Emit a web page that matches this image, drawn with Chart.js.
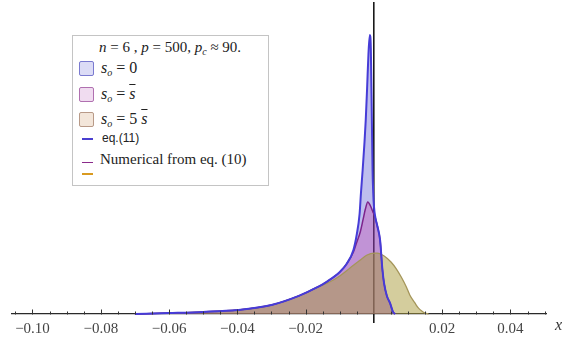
<!DOCTYPE html>
<html>
<head>
<meta charset="utf-8">
<script src="https://cdn.jsdelivr.net/npm/chart.js@4/dist/chart.umd.min.js"></script>
<style>
  html, body { margin:0; padding:0; background:#fff; }
  #wrap { position:relative; width:564px; height:342px; }
  #legend { position:absolute; left:72px; top:35px; width:195px; height:149px; border:1px solid #c4c4c4; background:#fff; font-family:'Liberation Serif', serif; color:#222; font-size:15px; }
  #legend .row { position:absolute; white-space:nowrap; line-height:16px; }
  #legend .ico { position:absolute; width:13px; height:13px; border-radius:2px; }
  #legend .ln { position:absolute; height:0; }
  #legend sub { font-size:10px; vertical-align:-3px; line-height:0; }
  .ov { text-decoration: overline; }
  #xlab { position:absolute; left:555px; top:316px; font-family:'Liberation Serif', serif; font-style:italic; font-size:16px; color:#333; }
</style>
</head>
<body>
<div id="wrap">
  <canvas id="c" width="564" height="342"></canvas>
  <div id="legend">
    <div class="row" style="left:26px;top:3px;font-size:15px;"><i>n</i> = 6 , <i>p</i> = 500, <i>p</i><sub><i>c</i></sub> ≈ 90.</div>
    <div class="ico" style="left:6px;top:25px;background:#dcdcf6;border:1.5px solid #7a7ad0;"></div>
    <div class="row" style="left:28px;top:24px;font-size:16px;"><i>s</i><sub><i>o</i></sub> = 0</div>
    <div class="ico" style="left:6px;top:51px;background:#f0dcf0;border:1.5px solid #b070b0;"></div>
    <div class="row" style="left:28px;top:50px;font-size:16px;"><i>s</i><sub><i>o</i></sub> = <i class="ov">s</i></div>
    <div class="ico" style="left:6px;top:76px;background:#f3e6da;border:1.5px solid #b89a88;"></div>
    <div class="row" style="left:28px;top:75px;font-size:16px;"><i>s</i><sub><i>o</i></sub> = 5 <i class="ov">s</i></div>
    <div class="ln" style="left:9px;top:102px;width:11px;border-top:2px solid #4a3fd0;"></div>
    <div class="row" style="left:29px;top:94px;font-family:'Liberation Sans',sans-serif;font-size:12px;">eq.(11)</div>
    <div class="ln" style="left:9px;top:126px;width:11px;border-top:1.5px solid #8a2a8a;"></div>
    <div class="ln" style="left:9px;top:137px;width:11px;border-top:2px solid #d99a20;"></div>
    <div class="row" style="left:27px;top:115px;font-size:15px;">Numerical from eq. (10)</div>
  </div>
  <div id="xlab">x</div>
</div>
<script>
// ---- data (density vs x) ----
const blueX = [-0.07,-0.06,-0.05,-0.04,-0.03,-0.022,-0.017,-0.0135,-0.01,-0.008,-0.006,-0.005,-0.0042,-0.0038,-0.0033,-0.0028,-0.0024,-0.002,-0.0016,-0.0012,-0.0009,-0.0006,-0.0004,-0.0002,0,0.0005,0.001,0.0018,0.0025,0.003,0.0038,0.0047,0.0056,0.0062];
const blueY = [0,0.6,1.3,2.5,5.6,11.3,16.3,20.6,26.3,31.3,40,50,62.5,75.6,90,106,121,141,162.5,174.4,166,121,90,75.6,67.5,59.4,55,46.3,27.5,18.8,11.3,6.9,1.3,0];

const purpleX = [-0.07,-0.06,-0.05,-0.04,-0.03,-0.022,-0.017,-0.0135,-0.01,-0.008,-0.006,-0.005,-0.004,-0.0032,-0.0025,-0.0018,-0.001,-0.0003,0,0.0005,0.001,0.0018,0.0025,0.003,0.0038,0.0047,0.0056,0.0062];
const purpleY = [0,0.6,1.3,2.5,5.6,11.3,16.3,20.6,26.3,31.3,38.8,45,51.3,58.8,65.6,70,67.5,63.8,62.5,59.4,55,46.3,27.5,18.8,11.3,6.9,1.3,0];

const oliveX = [-0.07,-0.06,-0.05,-0.04,-0.03,-0.022,-0.017,-0.013,-0.01,-0.007,-0.004,-0.002,0,0.001,0.003,0.005,0.0066,0.008,0.0095,0.0105,0.012,0.013,0.014,0.015,0.016];
const oliveY = [0,0.6,1.3,2.5,5.6,11.3,16.3,20,23.8,28.8,33.8,36.9,38.1,38.1,36.3,32.5,28.1,23.1,16.9,11.9,6.9,3.8,1.9,0.6,0];

const majorTicks = [-0.10,-0.08,-0.06,-0.04,-0.02,0.02,0.04];
const tickLabels = ['\u22120.10','\u22120.08','\u22120.06','\u22120.04','\u22120.02','0.02','0.04'];
const minorStep = 0.005;

const xMin = -0.106, xMax = 0.0504, yMin = -5, yMax = 194.4;

function pts(xs, ys){ return xs.map((x,i)=>({x:x, y:ys[i]})); }
function labelFor(v){
  for (let i=0;i<majorTicks.length;i++){ if (Math.abs(v-majorTicks[i])<1e-7) return tickLabels[i]; }
  return '';
}
function isMajor(v){ return Math.abs(v/0.02 - Math.round(v/0.02)) < 1e-6; }

const tickPlugin = {
  id:'mmaTicks',
  afterDraw(chart){
    const xs = chart.scales.x, ys = chart.scales.y, ctx = chart.ctx;
    const y0 = Math.round(ys.getPixelForValue(0)) + 0.5;
    ctx.save();
    ctx.strokeStyle = '#333'; ctx.lineWidth = 1;
    xs.ticks.forEach(t=>{
      if (Math.abs(t.value) < 1e-9) return;
      const px = Math.round(xs.getPixelForValue(t.value)) + 0.5;
      ctx.beginPath(); ctx.moveTo(px, y0); ctx.lineTo(px, y0 - (isMajor(t.value) ? 5 : 3)); ctx.stroke();
    });
    ctx.restore();
  }
};

const tickVals = [];
for (let k = Math.ceil(xMin/minorStep); k*minorStep <= xMax + 1e-9; k++) tickVals.push(+(k*minorStep).toFixed(4));

const lineCommon = { pointRadius:0, cubicInterpolationMode:'monotone', fill:false };
const fillCommon = { pointRadius:0, cubicInterpolationMode:'monotone', fill:'origin', borderWidth:0, borderColor:'rgba(0,0,0,0)' };

new Chart(document.getElementById('c'), {
  type: 'line',
  data: {
    datasets: [
      // outlines (index 0 drawn last => on top)
      Object.assign({ label:'eq.(11)', data: pts(blueX, blueY), borderColor:'rgb(70,60,215)', borderWidth:2 }, lineCommon),
      Object.assign({ label:'s_o = s (num)', data: pts(purpleX, purpleY), borderColor:'rgb(125,35,140)', borderWidth:1.5 }, lineCommon),
      Object.assign({ label:'s_o = 5s (num)', data: pts(oliveX, oliveY), borderColor:'rgb(165,150,90)', borderWidth:1.3 }, lineCommon),
      // fills (highest index drawn first)
      Object.assign({ label:'s_o = 5s', data: pts(oliveX, oliveY), backgroundColor:'rgba(170,155,60,0.5)' }, fillCommon),
      Object.assign({ label:'s_o = s', data: pts(purpleX, purpleY), backgroundColor:'rgba(200,70,170,0.35)' }, fillCommon),
      Object.assign({ label:'s_o = 0', data: pts(blueX, blueY), backgroundColor:'rgba(40,40,200,0.3)' }, fillCommon)
    ]
  },
  options: {
    responsive:false, animation:false,
    layout:{ padding:{ left:12, right:18, top:3, bottom:20 } },
    plugins:{ legend:{display:false}, tooltip:{enabled:false}, filler:{ drawTime:'beforeDatasetsDraw' } },
    scales:{
      x:{
        type:'linear', min:xMin, max:xMax, position:{y:0},
        afterBuildTicks: s => { s.ticks = tickVals.map(v=>({value:v})); },
        grid:{ display:false, drawTicks:false },
        border:{ display:true, color:'#2a2a2a', width:1.2 },
        ticks:{ autoSkip:false, maxRotation:0, padding:6, color:'#444', font:{ family:'Liberation Serif', size:15 }, callback: v => labelFor(v) }
      },
      y:{
        type:'linear', min:yMin, max:yMax, position:{x:0},
        grid:{ display:false, drawTicks:false },
        border:{ display:true, color:'#1a1a1a', width:1.6 },
        ticks:{ display:false }
      }
    }
  },
  plugins:[tickPlugin]
});
</script>
</body>
</html>
